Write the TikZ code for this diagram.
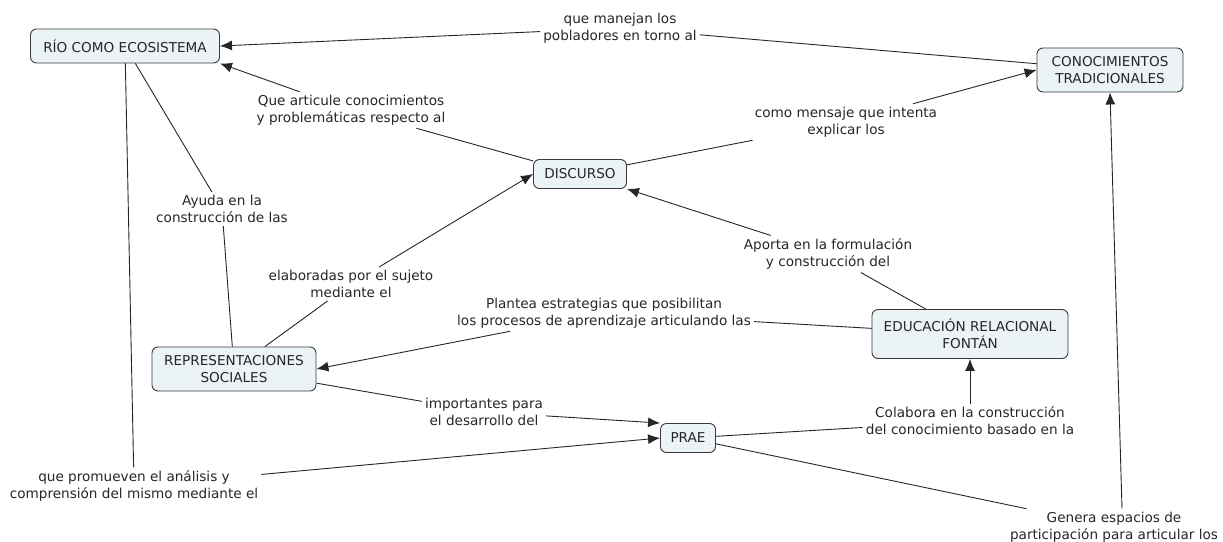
\documentclass[tikz,border=0pt]{standalone}
\usepackage{fontspec}
\setmainfont{DejaVu Sans}
\usetikzlibrary{arrows.meta}
\definecolor{boxfill}{HTML}{EBF3F6}
\definecolor{boxline}{HTML}{3A3A3A}
\definecolor{txt}{HTML}{262626}
\tikzset{
  concept/.style={draw=boxline, fill=boxfill, rounded corners=6pt, align=center,
    inner xsep=9pt, inner ysep=7pt, minimum height=29pt, line width=0.9pt, text=txt},
  linkword/.style={align=center, inner sep=3pt, text=txt},
  link/.style={draw=black!85, line width=0.9pt},
  linkto/.style={link, -{Latex[length=12pt, width=10pt]}},
}

\begin{document}
\begin{tikzpicture}[x=1pt, y=-1pt, font=\fontsize{13.6}{17}\selectfont]
\useasboundingbox (0,0) rectangle (1223,541);

% concepts
\node[concept, minimum width=189pt, minimum height=34pt] (rio) at (125,46) {RÍO COMO ECOSISTEMA};
\node[concept, minimum width=146pt, minimum height=44pt] (conoc) at (1110,70) {CONOCIMIENTOS\\TRADICIONALES};
\node[concept, minimum width=93pt] (disc) at (580,174) {DISCURSO};
\node[concept, minimum width=164pt, minimum height=44pt] (rep) at (234,369) {REPRESENTACIONES\\SOCIALES};
\node[concept, minimum width=196pt, minimum height=49pt] (edu) at (970,334) {EDUCACIÓN RELACIONAL\\FONTÁN};
\node[concept, minimum width=55pt] (prae) at (688,438) {PRAE};

% linking phrases
\node[linkword] (lmanejan) at (620,28) {que manejan los\\pobladores en torno al};
\node[linkword] (larticule) at (351,110) {Que articule conocimientos\\y problemáticas respecto al};
\node[linkword] (lmensaje) at (846,122) {como mensaje que intenta\\explicar los};
\node[linkword] (layuda) at (222,209) {Ayuda en la\\construcción de las};
\node[linkword] (lelab) at (351,284) {elaboradas por el sujeto\\mediante el};
\node[linkword] (laporta) at (828,254) {Aporta en la formulación\\y construcción del};
\node[linkword] (lplantea) at (604,313) {Plantea estrategias que posibilitan\\los procesos de aprendizaje articulando las};
\node[linkword] (limport) at (484,412) {importantes para\\el desarrollo del};
\node[linkword] (lcolabora) at (970,421) {Colabora en la construcción\\del conocimiento basado en la};
\node[linkword] (lpromueven) at (134,486) {que promueven el análisis y\\comprensión del mismo mediante el};
\node[linkword] (lgenera) at (1114,527) {Genera espacios de\\participación para articular los};

% connectors
\draw[link] (conoc) -- (lmanejan);
\draw[linkto] (lmanejan) -- (rio.east);
\draw[link] (disc) -- (larticule);
\draw[linkto] (larticule) -- (rio.south east);
\draw[link] (disc) -- (lmensaje);
\draw[linkto] (lmensaje) -- (conoc.west);
\draw[link] (rio) -- (layuda);
\draw[link] (layuda) -- (rep);
\draw[link] (rep) -- (lelab);
\draw[linkto] (lelab) -- (disc.west);
\draw[link] (edu) -- (laporta);
\draw[linkto] (laporta) -- (disc.south east);
\draw[link] (edu) -- (lplantea);
\draw[linkto] (lplantea) -- (rep.east);
\draw[link] (rep) -- (limport);
\draw[linkto] (limport) -- (prae.north west);
\draw[link] (rio) -- (lpromueven);
\draw[linkto] (lpromueven) -- (prae.west);
\draw[link] (prae) -- (lcolabora);
\draw[linkto] (lcolabora) -- (edu.south);
\draw[link] (prae) -- (lgenera);
\draw[linkto] ([xshift=8pt]lgenera.north) -- (conoc.south);
\end{tikzpicture}
\end{document}
